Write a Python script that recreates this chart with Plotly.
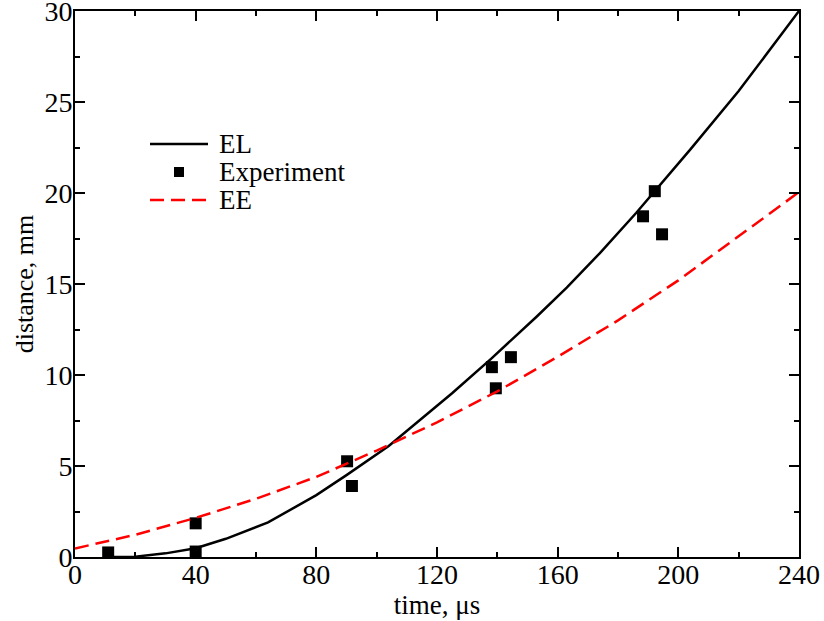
import plotly.graph_objects as go

# EL model curve (solid black)
el_t = [12, 20, 30, 40, 50, 64, 80, 90, 104, 114, 125, 138, 153, 163, 174, 186, 204, 220, 240]
el_d = [0.0, 0.02, 0.2, 0.48, 1.0, 1.9, 3.4, 4.5, 6.1, 7.5, 9.0, 10.9, 13.2, 14.8, 16.7, 18.9, 22.4, 25.6, 30.0]

# Experiment points
exp_t = [11, 40, 40, 90.2, 91.8, 138.2, 139.5, 144.5, 188.3, 192.2, 194.6]
exp_d = [0.25, 1.85, 0.3, 5.26, 3.9, 10.43, 9.27, 10.98, 18.72, 20.1, 17.73]

# EE model curve (dashed red)
ee_t = [0, 20, 40, 60, 80, 100, 120, 140, 160, 180, 200, 220, 240]
ee_d = [0.47, 1.22, 2.15, 3.2, 4.4, 5.85, 7.4, 9.1, 11.0, 13.0, 15.2, 17.6, 20.05]

x_ticks = [0, 40, 80, 120, 160, 200, 240]
y_ticks = [0, 5, 10, 15, 20, 25, 30]

legend_names = ["EL", "Experiment", "EE"]

font_family = "Liberation Serif"
EL_LINE = dict(color="black", width=2.5)
EE_LINE = dict(color="red", width=2.5, dash="14px,7px")

fig = go.Figure()
fig.add_trace(go.Scatter(x=el_t, y=el_d, mode="lines", name=legend_names[0], line=EL_LINE))
fig.add_trace(go.Scatter(x=exp_t, y=exp_d, mode="markers", name=legend_names[1],
                         marker=dict(symbol="square", size=12, color="black")))
fig.add_trace(go.Scatter(x=ee_t, y=ee_d, mode="lines", name=legend_names[2], line=EE_LINE))

# plot area in pixels
L, R, T, B = 75, 799, 11, 557
W, H = R - L, B - T
def px(xp):
    return (xp - L) / W
def py(yp):
    return (B - yp) / H

# manual legend (row spacing like reference)
rows_y = [144, 172, 200]
shapes = [
    dict(type="line", xref="paper", yref="paper", x0=px(150), x1=px(208),
         y0=py(rows_y[0]), y1=py(rows_y[0]), line=EL_LINE),
    dict(type="rect", xref="paper", yref="paper", x0=px(174), x1=px(184),
         y0=py(rows_y[1] - 5), y1=py(rows_y[1] + 5), fillcolor="black", line=dict(width=0)),
    dict(type="line", xref="paper", yref="paper", x0=px(150), x1=px(208),
         y0=py(rows_y[2]), y1=py(rows_y[2]), line=EE_LINE),
]
annotations = [
    dict(text=name, xref="paper", yref="paper", x=px(217), y=py(yy),
         xanchor="left", yanchor="middle", showarrow=False,
         font=dict(family=font_family, size=27, color="black"))
    for name, yy in zip(legend_names, rows_y)
]

axis_common = dict(
    showline=True, linecolor="black", linewidth=2, mirror="ticks",
    ticks="inside", ticklen=10, tickwidth=1.5, tickcolor="black",
    showgrid=False, zeroline=False, automargin=False,
    ticklabeloverflow="allow",
    tickfont=dict(family=font_family, size=28, color="black"),
)

fig.update_layout(
    width=824, height=621,
    margin=dict(l=L, r=824 - R, t=T, b=621 - B),
    paper_bgcolor="white", plot_bgcolor="white",
    font=dict(family=font_family, color="black"),
    showlegend=False,
    shapes=shapes,
    annotations=annotations,
    xaxis=dict(range=[0, 240], tickvals=x_ticks, ticklabelstandoff=-9,
               title=dict(text="time, μs", font=dict(family=font_family, size=27), standoff=0),
               minor=dict(ticks="inside", ticklen=5, dtick=20, tickwidth=1.5, tickcolor="black", showgrid=False),
               **axis_common),
    yaxis=dict(range=[0, 30], tickvals=y_ticks, ticklabelstandoff=-5,
               title=dict(text="distance, mm", font=dict(family=font_family, size=26), standoff=3),
               minor=dict(ticks="inside", ticklen=5, dtick=2.5, tickwidth=1.5, tickcolor="black", showgrid=False),
               **axis_common),
)

fig.write_html("out.html")
